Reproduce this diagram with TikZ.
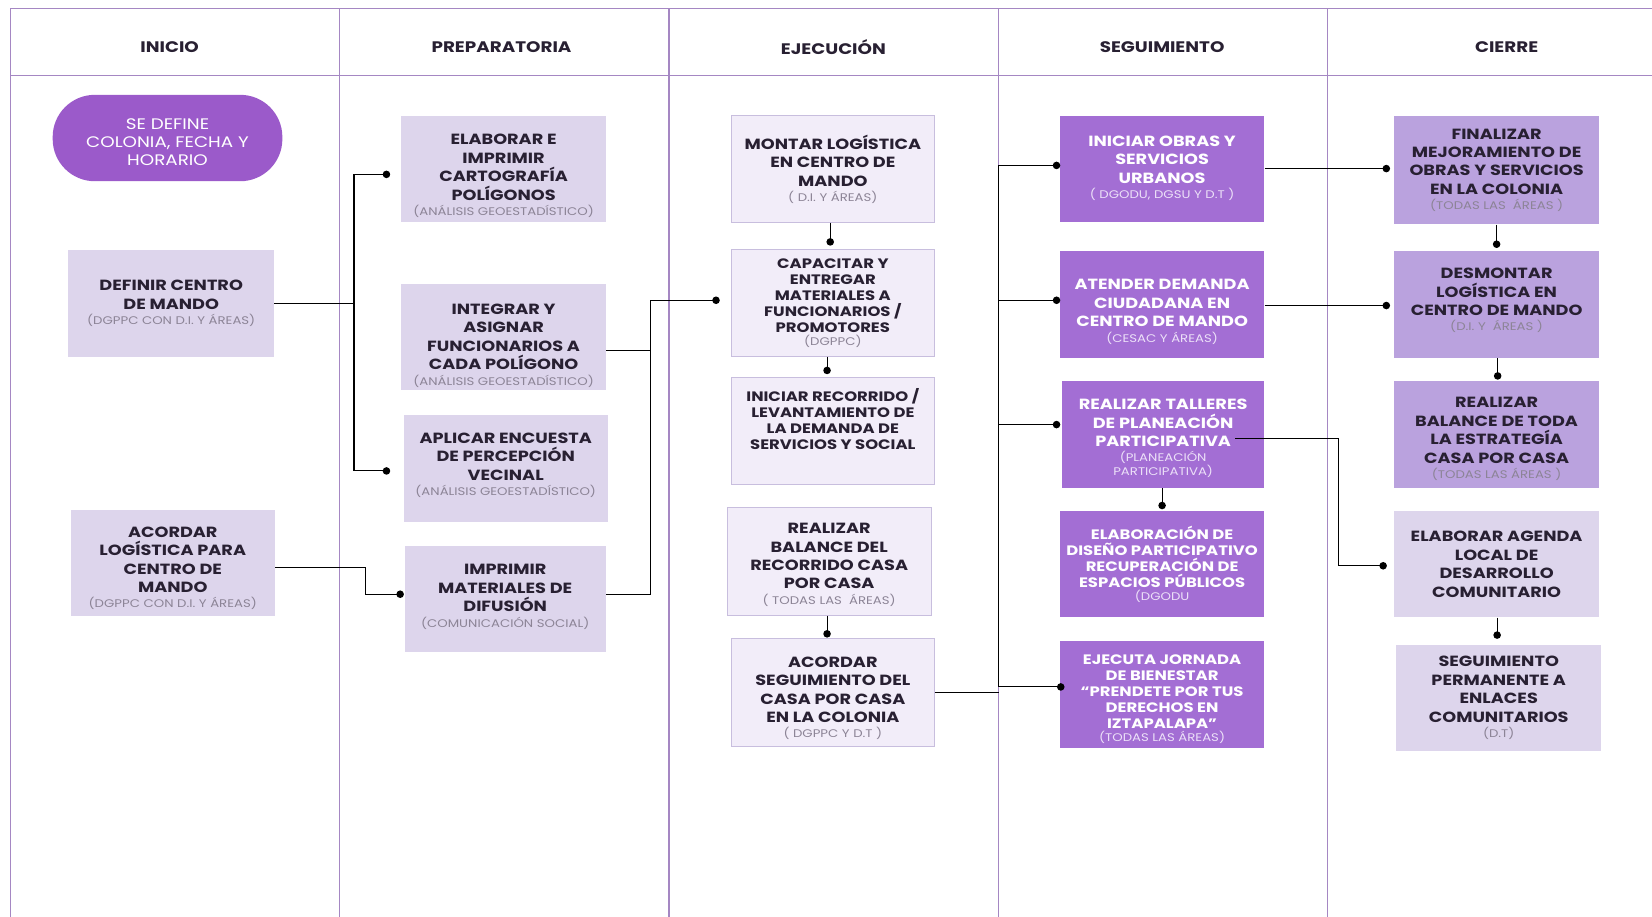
\documentclass[tikz,border=0pt]{standalone}
\usepackage{fontspec}
\setmainfont{Poppins}[FakeStretch=1.2]
\usetikzlibrary{calc}
\definecolor{frame}{RGB}{165,135,195}
\definecolor{lav}{RGB}{221,213,236}
\definecolor{pale}{RGB}{242,237,249}
\definecolor{paleb}{RGB}{200,190,222}
\definecolor{deep}{RGB}{163,110,212}
\definecolor{pill}{RGB}{155,90,202}
\definecolor{midlav}{RGB}{186,162,222}
\definecolor{txt}{RGB}{40,32,50}
\definecolor{subg}{RGB}{140,132,150}
\definecolor{subw}{RGB}{236,224,248}
\newcommand\ttlf{\fontsize{14}{17.5}\selectfont\bfseries}
\newcommand\smf{\fontsize{13}{15.2}\selectfont\bfseries}
\newcommand\sbt[1]{\\[-3pt]{\fontsize{10.5}{12}\selectfont\mdseries #1}}
\newcommand\dn[1]{\rule{0pt}{\dimexpr\fontcharht\font`\E+#1pt*2\relax}}
\newcommand\up[1]{\rule[-\dimexpr#1pt*2\relax]{0pt}{0pt}}
\tikzset{
  box/.style={rectangle, inner sep=1pt, align=center, font=\ttlf, text=txt},
  lite/.style={box, fill=lav},
  palebox/.style={box, fill=pale, draw=paleb, line width=0.8pt},
  deepbox/.style={box, fill=deep, text=white},
  midbox/.style={box, fill=midlav},
  conn/.style={line width=1pt, draw=black},
  hdr/.style={font=\fontsize{14.5}{16}\selectfont\bfseries, text=txt},
  sz/.style 2 args={minimum width=#1, minimum height=#2}
}
\begin{document}
\begin{tikzpicture}[x=1pt,y=-1pt]
\fill[white] (0,0) rectangle (1568,870);
\useasboundingbox (0,0) rectangle (1568,870);
% frame
\begin{scope}[draw=frame, line width=1.2pt]
\draw (10,870) -- (10,8) -- (1568,8);
\draw (10,72) -- (1568,72);
\foreach \x in {322,635,948,1260} \draw (\x,8) -- (\x,870);
\end{scope}
\node[hdr] (h1) at (161,45) {INICIO};
\node[hdr] (h2) at (476,45) {PREPARATORIA};
\node[hdr] (h3) at (791,45) {EJECUCIÓN};
\node[hdr] (h4) at (1103,45) {SEGUIMIENTO};
\node[hdr] (h5) at (1430,45) {CIERRE};
% INICIO
\node[rectangle, rounded corners=40pt, fill=pill, text=white, align=center, sz={218}{82},
  font=\fontsize{14.5}{17.3}\selectfont] (ini) at (159,131) {\dn{4}SE DEFINE\\COLONIA, FECHA Y\\HORARIO};
\node[lite, sz={195}{102}, text=txt] (def) at (162.5,288) {DEFINIR CENTRO\\DE MANDO\sbt{\color{subg}(DGPPC CON D.I. Y ÁREAS)}};
\node[lite, sz={194}{101}] (acl) at (164,534.5) {\dn{5}ACORDAR\\LOGÍSTICA PARA\\CENTRO DE\\MANDO\sbt{\color{subg}(DGPPC CON D.I. Y ÁREAS)}};
% PREPARATORIA
\node[lite, sz={194}{101}] (ela) at (478,160.5) {\dn{6.5}ELABORAR E\\IMPRIMIR\\CARTOGRAFÍA\\POLÍGONOS\sbt{\color{subg}(ANÁLISIS GEOESTADÍSTICO)}};
\node[lite, sz={194}{100}] (int) at (478,320) {\dn{8}INTEGRAR Y\\ASIGNAR\\FUNCIONARIOS A\\CADA POLÍGONO\sbt{\color{subg}(ANÁLISIS GEOESTADÍSTICO)}};
\node[lite, sz={194}{101}] (apl) at (480,444.5) {\dn{8}APLICAR ENCUESTA\\DE PERCEPCIÓN\\VECINAL\sbt{\color{subg}(ANÁLISIS GEOESTADÍSTICO)}\\[6pt]};
\node[lite, sz={191}{101}] (imp) at (479.5,568.5) {IMPRIMIR\\MATERIALES DE\\DIFUSIÓN\sbt{\color{subg}(COMUNICACIÓN SOCIAL)\up{3}}};
% EJECUCION
\node[palebox, sz={193}{101}] (mon) at (790.5,160.5) {MONTAR LOGÍSTICA\\EN CENTRO DE\\MANDO\sbt{\color{subg}( D.I. Y ÁREAS)}};
\node[palebox, sz={193}{101}, font=\smf] (cap) at (790.5,287.5) {CAPACITAR Y\\ENTREGAR\\MATERIALES A\\FUNCIONARIOS /\\PROMOTORES\sbt{\color{subg}(DGPPC)}};
\node[palebox, sz={193}{102}, font=\smf] (inr) at (790.5,409) {\dn{4}INICIAR RECORRIDO /\\LEVANTAMIENTO DE\\LA DEMANDA DE\\SERVICIOS Y SOCIAL\\[12pt]};
\node[palebox, sz={194}{102}] (rbc) at (787,533) {\dn{3}REALIZAR\\BALANCE DEL\\RECORRIDO CASA\\POR CASA\sbt{\color{subg}( TODAS LAS\ \ ÁREAS)}};
\node[palebox, sz={193}{102}] (acs) at (790.5,657) {\dn{6}ACORDAR\\SEGUIMIENTO DEL\\CASA POR CASA\\EN LA COLONIA\sbt{\color{subg}( DGPPC Y D.T )}};
% SEGUIMIENTO
\node[deepbox, sz={194}{101}] (iob) at (1103,160.5) {INICIAR OBRAS Y\\SERVICIOS\\URBANOS\sbt{\color{subw}( DGODU, DGSU Y D.T )\up{2}}};
\node[deepbox, sz={194}{102}] (ate) at (1103,289) {\dn{7}ATENDER DEMANDA\\CIUDADANA EN\\CENTRO DE MANDO\sbt{\color{subw}(CESAC Y ÁREAS)}};
\node[deepbox, sz={192}{101}] (tal) at (1104,412.5) {\dn{3.5}REALIZAR TALLERES\\DE PLANEACIÓN\\PARTICIPATIVA\sbt{\color{subw}(PLANEACIÓN}\\[-5pt]{\fontsize{10.5}{12}\selectfont\mdseries\color{subw}PARTICIPATIVA)}};
\node[deepbox, sz={194}{101}, font=\smf] (edp) at (1103,535.5) {ELABORACIÓN DE\\DISEÑO PARTICIPATIVO\\RECUPERACIÓN DE\\ESPACIOS PÚBLICOS\sbt{\color{subw}(DGODU}};
\node[deepbox, sz={194}{102}, font=\smf] (eje) at (1103,659) {\dn{5}EJECUTA JORNADA\\DE BIENESTAR\\“PRENDETE POR TUS\\DERECHOS EN\\IZTAPALAPA”\sbt{\color{subw}(TODAS LAS ÁREAS)}};
% CIERRE
\node[midbox, sz={195}{103}] (fin) at (1420.5,161.5) {FINALIZAR\\MEJORAMIENTO DE\\OBRAS Y SERVICIOS\\EN LA COLONIA\sbt{\color{subg}(TODAS LAS\ \ ÁREAS )}};
\node[midbox, sz={195}{102}] (des) at (1420.5,289) {\dn{6}DESMONTAR\\LOGÍSTICA EN\\CENTRO DE MANDO\sbt{\color{subg}(D.I. Y\ \ ÁREAS )}\\[4pt]};
\node[midbox, sz={195}{101}] (rbt) at (1420.5,412.5) {\dn{4}REALIZAR\\BALANCE DE TODA\\LA ESTRATEGÍA\\CASA POR CASA\sbt{\color{subg}(TODAS LAS ÁREAS )}};
\node[lite, sz={195}{101}] (age) at (1420.5,535.5) {ELABORAR AGENDA\\LOCAL DE\\DESARROLLO\\COMUNITARIO};
\node[lite, sz={195}{101}] (seg) at (1422.5,662.5) {SEGUIMIENTO\\PERMANENTE A\\ENLACES\\COMUNITARIOS\sbt{\color{subg}(D.T)}};
% connectors
\coordinate (d1) at ($(ela.west)+(-14,5)$);
\coordinate (d2) at ($(apl.west)+(-16,2.5)$);
\coordinate (j1) at (336,0);
\draw[conn] (def.east) -- (def.east -| j1);
\draw[conn] (d1) -- (d1 -| j1) -- (d2 -| j1) -- (d2);
\coordinate (d3) at ($(imp.west)+(-4,-4.5)$);
\coordinate (a3) at ($(acl.east)+(0,4.5)$);
\draw[conn] (a3) -- ++(86,0) |- (d3);
\coordinate (d4) at ($(cap.west)+(-14,-2.5)$);
\coordinate (j2) at (617,0);
\coordinate (k1) at ($(int.east)+(0,13)$);
\coordinate (k2) at ($(imp.east)+(0,-4.5)$);
\draw[conn] (k1) -- (k1 -| j2);
\draw[conn] (k2) -- (k2 -| j2) -- (d4 -| j2) -- (d4);
\coordinate (d5) at ($(cap.north)+(-2.5,-7)$);
\draw[conn] (mon.south -| d5) -- (d5);
\coordinate (d6) at ($(inr.north)+(-5.5,-6)$);
\draw[conn] (cap.south -| d6) -- (d6);
\coordinate (d7) at ($(acs.north)+(-5.5,-4)$);
\draw[conn] (rbc.south -| d7) -- (d7);
\coordinate (j3) at (948,0);
\coordinate (e1) at ($(iob.west)+(-3,-3.5)$);
\coordinate (e2) at ($(ate.west)+(-3,-4)$);
\coordinate (e3) at ($(tal.west)+(-5,-9.5)$);
\coordinate (e4) at ($(eje.west)+(1,-7)$);
\draw[conn] (acs.east) -- (acs.east -| j3);
\draw[conn] (e1) -- (e1 -| j3) -- (e4 -| j3) -- (e4);
\draw[conn] (e2 -| j3) -- (e2);
\draw[conn] (e3 -| j3) -- (e3);
\coordinate (f1) at ($(fin.west)+(-7,-1.5)$);
\coordinate (f2) at ($(des.west)+(-7,1)$);
\draw[conn, line width=0.8pt] (iob.east |- f1) -- (f1);
\draw[conn, line width=0.8pt] (ate.east |- f2) -- (f2);
\coordinate (f3) at ($(age.west)+(-10,1.5)$);
\coordinate (t1) at ($(tal.east)+(-28,3.5)$);
\draw[conn] (t1) -- (1270,416) |- (f3);
\coordinate (g1) at ($(edp.north)+(0,-5)$);
\draw[conn] (tal.south -| g1) -- (g1);
\coordinate (g2) at ($(des.north)+(0,-6)$);
\draw[conn] (fin.south -| g2) -- (g2);
\coordinate (g3) at ($(rbt.north)+(1,-5)$);
\draw[conn] (des.south -| g3) -- (g3);
\coordinate (g4) at ($(seg.north)+(-1.5,-9)$);
\draw[conn] (age.south -| g4) -- (g4);
\foreach \p in {d1,d2,d3,d4,d5,d6,d7,e1,e2,e3,e4,f1,f2,f3,g1,g2,g3,g4}
  \fill (\p) circle (3.6);
\end{tikzpicture}
\end{document}
